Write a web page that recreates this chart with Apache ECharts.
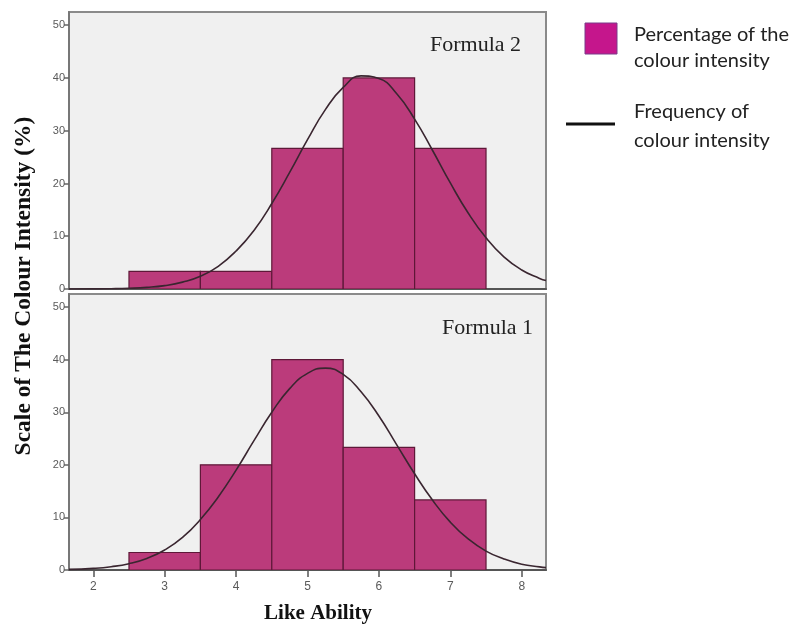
<!DOCTYPE html>
<html><head><meta charset="utf-8">
<script src="https://cdn.jsdelivr.net/npm/echarts@6/dist/echarts.min.js"></script>
<style>html,body{margin:0;padding:0;background:#fff;}#c{width:795px;height:626px;}</style>
</head><body><div id="c"></div>
<script>
const xTicks = [2, 3, 4, 5, 6, 7, 8];
const yTicks = [0, 10, 20, 30, 40, 50];
const binStarts = [2.5, 3.5, 4.5, 5.5, 6.5];
const binEnds = [3.5, 4.5, 5.5, 6.5, 7.5];
const formula2Pct = [3.33, 3.33, 26.67, 40, 26.67];
const formula1Pct = [3.33, 20, 40, 23.33, 13.33];
const curveX = [1.66, 2, 2.25, 2.5, 2.75, 3, 3.25, 3.5, 3.75, 4, 4.25, 4.5, 4.75, 5, 5.25, 5.5, 5.75, 6, 6.25, 6.5, 6.75, 7, 7.25, 7.5, 7.75, 8, 8.25, 8.34];
const formula2Curve = [0.01, 0.02, 0.05, 0.13, 0.3, 0.64, 1.3, 2.4, 4.3, 7.2, 11.1, 16.2, 22.1, 28.3, 34.0, 38.2, 40.4, 39.9, 37.0, 32.2, 26.3, 20.1, 14.4, 9.7, 6.1, 3.6, 2.0, 1.6];
const formula1Curve = [0.11, 0.31, 0.63, 1.2, 2.2, 3.8, 6.2, 9.6, 13.9, 19.0, 24.6, 30.0, 34.5, 37.4, 38.4, 37.2, 33.9, 29.3, 23.8, 18.3, 13.3, 9.1, 5.9, 3.6, 2.1, 1.1, 0.6, 0.45];
const panelTitles = ['Formula 2', 'Formula 1'];
const legendLabels = ['Percentage of the\ncolour intensity', 'Frequency of\ncolour intensity'];
const yTitle = 'Scale of The Colour Intensity (%)';
const xTitle = 'Like Ability';

const barColor = '#bb3b7b';
const barBorder = '#5e1838';
const curveColor = '#3a2630';

function binData(vals) { return vals.map((v, i) => [binStarts[i], binEnds[i], v]); }
function curveData(vals) { return curveX.map((x, i) => [x, vals[i]]); }
function renderBin(params, api) {
  const p0 = api.coord([api.value(0), api.value(2)]);
  const p1 = api.coord([api.value(1), 0]);
  return { type: 'rect', shape: { x: p0[0], y: p0[1], width: p1[0] - p0[0], height: p1[1] - p0[1] },
    style: { fill: barColor, stroke: barBorder, lineWidth: 1.2 } };
}
function makeX(idx, showLabels) {
  return {
    type: 'value', gridIndex: idx, min: 1.66, max: 8.34,
    axisLine: { show: true, onZero: false, lineStyle: { color: '#555', width: 2 } },
    axisTick: { show: showLabels, customValues: xTicks, length: 7, lineStyle: { color: '#555', width: 1.5 } },
    axisLabel: { show: showLabels, customValues: xTicks, color: '#5a5a5a', fontSize: 12, fontFamily: 'Liberation Sans', margin: 11 },
    splitLine: { show: false }
  };
}
function makeY(idx) {
  return {
    type: 'value', gridIndex: idx, min: 0, max: 52.5,
    axisLine: { show: true, lineStyle: { color: '#777', width: 2 } },
    axisTick: { show: true, customValues: yTicks, length: 5, lineStyle: { color: '#666', width: 1.5 } },
    axisLabel: { show: true, customValues: yTicks, color: '#5a5a5a', fontSize: 11, fontFamily: 'Liberation Sans', margin: 4 },
    splitLine: { show: false }
  };
}
const chart = echarts.init(document.getElementById('c'));
chart.setOption({
  animation: false,
  backgroundColor: '#ffffff',
  grid: [
    { left: 69, top: 12, width: 477, height: 277, show: true, backgroundColor: '#f0f0f0', borderColor: '#8a8a8a', borderWidth: 2 },
    { left: 69, top: 294, width: 477, height: 276, show: true, backgroundColor: '#f0f0f0', borderColor: '#8a8a8a', borderWidth: 2 }
  ],
  xAxis: [makeX(0, false), makeX(1, true)],
  yAxis: [makeY(0), makeY(1)],
  series: [
    { type: 'custom', xAxisIndex: 0, yAxisIndex: 0, renderItem: renderBin, encode: { x: [0, 1], y: 2 }, data: binData(formula2Pct), clip: true },
    { type: 'line', xAxisIndex: 0, yAxisIndex: 0, data: curveData(formula2Curve), smooth: true, showSymbol: false, lineStyle: { color: curveColor, width: 1.6 }, z: 5 },
    { type: 'custom', xAxisIndex: 1, yAxisIndex: 1, renderItem: renderBin, encode: { x: [0, 1], y: 2 }, data: binData(formula1Pct), clip: true },
    { type: 'line', xAxisIndex: 1, yAxisIndex: 1, data: curveData(formula1Curve), smooth: true, showSymbol: false, lineStyle: { color: curveColor, width: 1.6 }, z: 5 }
  ],
  graphic: [
    { type: 'text', left: 430, top: 34, style: { text: panelTitles[0], font: '22px "Liberation Serif"', fill: '#222' } },
    { type: 'text', left: 442, top: 317, style: { text: panelTitles[1], font: '22px "Liberation Serif"', fill: '#222' } },
    { type: 'text', x: 24, y: 286, rotation: Math.PI / 2, style: { text: yTitle, font: 'bold 23.5px "Liberation Serif"', fill: '#111', align: 'center', verticalAlign: 'middle' } },
    { type: 'text', x: 318, y: 614, style: { text: xTitle, font: 'bold 21px "Liberation Serif"', fill: '#111', align: 'center', verticalAlign: 'middle' } },
    { type: 'rect', shape: { x: 585, y: 23, width: 32, height: 31 }, style: { fill: '#c5168c', stroke: '#7a3a8a', lineWidth: 1 } },
    { type: 'line', shape: { x1: 566, y1: 124, x2: 615, y2: 124 }, style: { stroke: '#111', lineWidth: 3 } },
    { type: 'text', x: 634, y: 22, style: { text: legendLabels[0], font: '20px Lato', fill: '#222', lineHeight: 26 } },
    { type: 'text', x: 634, y: 97, style: { text: legendLabels[1], font: '20px Lato', fill: '#222', lineHeight: 29 } }
  ]
});
</script></body></html>
